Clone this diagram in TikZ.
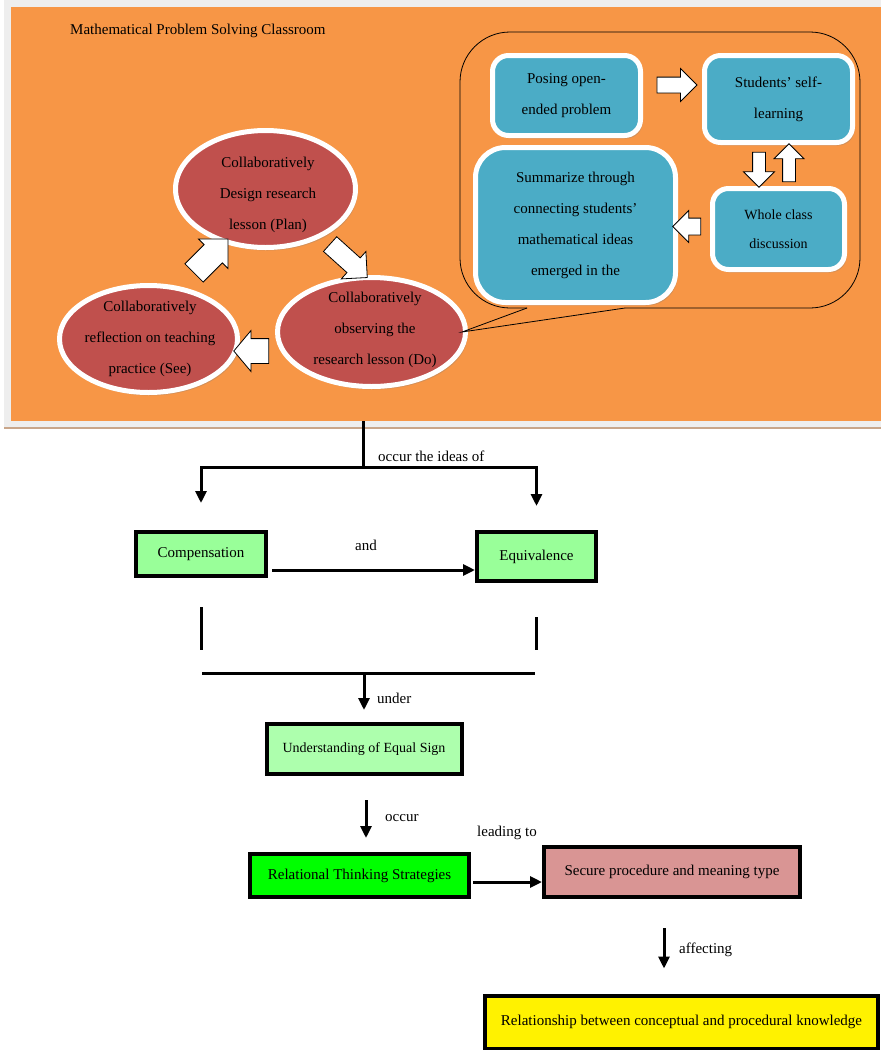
\documentclass[tikz,border=0pt]{standalone}
\usepackage{fontspec}
\setmainfont{Liberation Serif}
\usetikzlibrary{arrows.meta, positioning, shapes.geometric, shapes.arrows, shadows}

\definecolor{bgorange}{HTML}{F79646}
\definecolor{stepred}{HTML}{C0504D}
\definecolor{stepblue}{HTML}{4BACC6}
\definecolor{ideagreen}{HTML}{99FF99}
\definecolor{brightgreen}{HTML}{00FF00}
\definecolor{securepink}{HTML}{D99594}
\definecolor{framegray}{HTML}{EEEEEE}
\definecolor{frametan}{HTML}{C9A68A}

\begin{document}
\begin{tikzpicture}[x=1pt, y=-1pt,
  txt/.style={font=\fontsize{15}{31}\selectfont, align=center, inner sep=0pt},
  cycleoval/.style={ellipse, fill=stepred, draw=white, line width=5pt, inner sep=0pt,
    drop shadow={shadow xshift=2pt, shadow yshift=-3pt, opacity=0.3}},
  stepbox/.style={rectangle, rounded corners=16pt, fill=stepblue, draw=white, line width=5pt,
    inner sep=0pt, align=center, font=\fontsize{15}{31}\selectfont,
    drop shadow={shadow xshift=2pt, shadow yshift=-3pt, opacity=0.3}},
  blockarrow/.style={single arrow, draw=black, fill=white, line width=0.8pt, inner xsep=0pt,
    single arrow tip angle=90},
  ideabox/.style={rectangle, draw=black, line width=4pt, inner sep=0pt,
    font=\fontsize{15}{18}\selectfont},
  flow/.style={line width=3pt, -{Triangle[length=12pt, width=11pt]}},
  bar/.style={line width=3pt}
]
\useasboundingbox (0,0) rectangle (881,1050);

% classroom panel
\fill[framegray] (4,0) rectangle (881,428);
\fill[bgorange] (11,7) rectangle (881,421);
\draw[frametan, line width=2pt] (4,428) -- (881,428);
\node[txt, anchor=west] (title) at (70,31) {Mathematical Problem Solving Classroom};

% lesson study cycle
\node[cycleoval, minimum width=180pt, minimum height=117pt] (plan) at (265.5,189) {};
\node[cycleoval, minimum width=178pt, minimum height=107pt] (see) at (148.5,339) {};
\node[cycleoval, minimum width=188pt, minimum height=109pt] (do) at (371.5,332) {};
\node[txt] (planLbl) at (268,195) {Collaboratively\\Design research\\lesson (Plan)};
\node[txt] (seeLbl) at (150,339) {Collaboratively\\reflection on teaching\\practice (See)};
\node[txt] (doLbl) at (375,330) {Collaboratively\\observing the\\research lesson (Do)};

\node[blockarrow, rotate=-42, minimum height=50pt, inner ysep=9.5pt, single arrow head extend=8.5pt] (planToDo) at (345,257.5) {};
\node[blockarrow, rotate=180, minimum height=35pt, inner ysep=12pt, single arrow head extend=8pt, single arrow tip angle=100] (doToSee) at (256.5,351) {};
\node[blockarrow, rotate=45, minimum height=48pt, inner ysep=12.5pt, single arrow head extend=8pt] (seeToPlan) at (206.5,260.5) {};

% callout with the classroom steps
\coordinate (tip) at ([xshift=-6pt]do.east);
\draw[line width=0.8pt, rounded corners=50pt] (625,308) -- (860,308) -- (860,32) -- (460,32) -- (460,308) -- (527,308);
\draw[line width=0.8pt] (527,308) -- (tip) -- (625,308);

\node[stepbox, minimum width=148pt, minimum height=80pt] (posing) at (566.5,95.5) {Posing open-\\ended problem};
\node[stepbox, minimum width=148pt, minimum height=87pt] (selflearn) at (778.5,99) {Students’ self-\\learning};
\node[stepbox, minimum width=132pt, minimum height=81pt, font=\fontsize{14}{29}\selectfont] (whole) at (778.5,229) {Whole class\\discussion};
\node[stepbox, rounded corners=30pt, minimum width=200pt, minimum height=155pt] (summ) at (575.5,225) {Summarize through\\connecting students’\\mathematical ideas\\emerged in the};

\node[blockarrow, minimum height=40pt, inner ysep=7.5pt, single arrow head extend=8.5pt] (posToSelf) at (673,85) {};
\node[blockarrow, rotate=-90, minimum height=35pt, inner ysep=6pt, single arrow head extend=9pt] (selfToWhole) at (759,166.5) {};
\node[blockarrow, rotate=90, minimum height=38pt, inner ysep=6pt, single arrow head extend=8.5pt] (wholeToSelf) at (789,166) {};
\node[blockarrow, rotate=180, minimum height=28pt, inner ysep=8pt, single arrow head extend=7.5pt] (wholeToSumm) at (691,226.5) {};

% ideas that occur
\node[ideabox, fill=ideagreen, minimum width=130pt, minimum height=44pt] (comp) at (201,554) {Compensation};
\node[ideabox, fill=ideagreen, minimum width=119pt, minimum height=49pt] (equiv) at (536.5,556.5) {Equivalence};

\coordinate (stem) at (363,421);
\coordinate (fork) at (363,467);
\draw[bar] (stem) -- (fork);
\draw[flow, shorten >=27pt] (fork) -| (comp.north);
\draw[flow, shorten >=24pt] (fork) -| (equiv.north);
\node[txt, anchor=west] (ideasLbl) at (378,456) {occur the ideas of};

\coordinate (andStart) at (272,570);
\draw[flow] (andStart) -- (andStart -| equiv.west);
\node[txt] (andLbl) at (366,545) {and};

\draw[bar] ([yshift=-29pt]comp.south) -- ([yshift=-72pt]comp.south);
\draw[bar] ([yshift=-34pt]equiv.south) -- ([yshift=-67pt]equiv.south);
\coordinate (joinL) at (202,673);
\coordinate (joinR) at (535,673);
\coordinate (joinMid) at (364,673);
\draw[bar] (joinL) -- (joinR);

% understanding and what follows
\node[ideabox, fill=ideagreen!80!white, minimum width=195pt, minimum height=50pt, font=\fontsize{14}{17}\selectfont] (und) at (364,749) {Understanding of Equal Sign};
\draw[flow, shorten >=12pt] (joinMid) -- (joinMid |- und.north);
\node[txt, anchor=west] (underLbl) at (377,698) {under};

\node[ideabox, fill=brightgreen, minimum width=219pt, minimum height=43pt] (rel) at (359.5,875.5) {Relational Thinking Strategies};
\coordinate (occurTop) at (366,800);
\draw[flow, shorten >=14pt] (occurTop) -- (occurTop |- rel.north);
\node[txt, anchor=west] (occurLbl) at (385,818) {occur};

\node[ideabox, fill=securepink, minimum width=256pt, minimum height=50pt] (sec) at (672,872) {Secure procedure and meaning type};
\coordinate (leadStart) at (473,882);
\draw[flow] (leadStart) -- (leadStart -| sec.west);
\node[txt] (leadLbl) at (507,833) {leading to};

\node[ideabox, fill=yellow, minimum width=393pt, minimum height=53pt] (know) at (681.5,1022) {Relationship between conceptual and procedural knowledge};
\coordinate (affTop) at (664,928);
\draw[flow, shorten >=25pt] (affTop) -- (affTop |- know.north);
\node[txt, anchor=west] (affLbl) at (679,950) {affecting};

\end{tikzpicture}
\end{document}
